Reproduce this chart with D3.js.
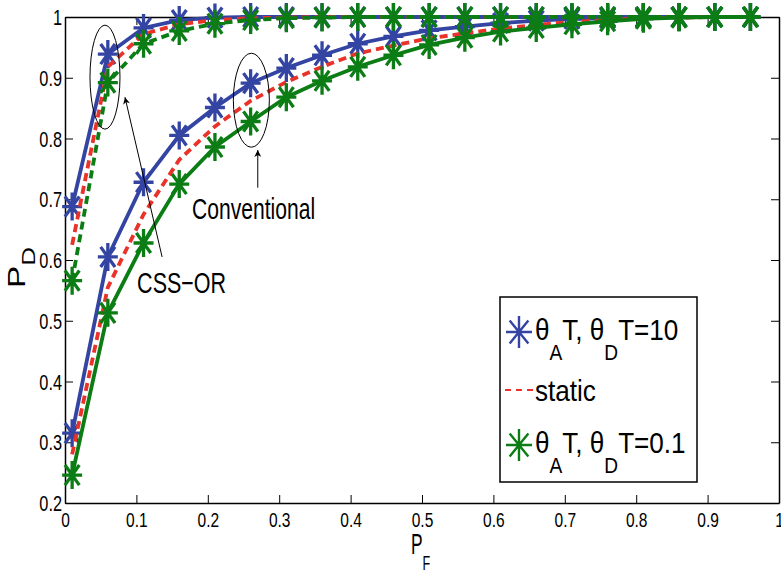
<!DOCTYPE html>
<html>
<head>
<meta charset="utf-8">
<script src="https://cdnjs.cloudflare.com/ajax/libs/d3/7.8.5/d3.min.js"></script>
<style>
  body { margin: 0; background: #fff; }
  svg { display: block; font-family: "Liberation Sans", Arial, sans-serif; }
</style>
</head>
<body>
<svg id="chart"></svg>
<script>
// P_F sample points
const pf = [0.01, 0.06, 0.11, 0.16, 0.21, 0.26, 0.31, 0.36, 0.41, 0.46,
            0.51, 0.56, 0.61, 0.66, 0.71, 0.76, 0.81, 0.86, 0.91, 0.96];

// Conventional
const convFast   = [0.315, 0.605, 0.728, 0.805, 0.851, 0.891, 0.916, 0.937, 0.956, 0.968,
                    0.978, 0.984, 0.990, 0.994, 0.997, 0.998, 0.999, 1.0, 1.0, 1.0];
const convStatic = [0.280, 0.555, 0.675, 0.765, 0.820, 0.862, 0.893, 0.918, 0.940, 0.953,
                    0.965, 0.973, 0.981, 0.987, 0.992, 0.995, 0.998, 0.999, 1.0, 1.0];
const convSlow   = [0.246, 0.513, 0.628, 0.725, 0.786, 0.828, 0.868, 0.895, 0.918, 0.937,
                    0.954, 0.966, 0.976, 0.982, 0.988, 0.993, 0.997, 0.999, 1.0, 1.0];

// CSS-OR
const cssFast   = [0.688, 0.939, 0.982, 0.995, 0.999, 1.0, 1.0, 1.0, 1.0, 1.0,
                   1.0, 1.0, 1.0, 1.0, 1.0, 1.0, 1.0, 1.0, 1.0, 1.0];
const cssStatic = [0.625, 0.918, 0.972, 0.988, 0.995, 0.998, 0.999, 1.0, 1.0, 1.0,
                   1.0, 1.0, 1.0, 1.0, 1.0, 1.0, 1.0, 1.0, 1.0, 1.0];
const cssSlow   = [0.566, 0.892, 0.956, 0.977, 0.989, 0.995, 0.998, 0.999, 1.0, 1.0,
                   1.0, 1.0, 1.0, 1.0, 1.0, 1.0, 1.0, 1.0, 1.0, 1.0];

const xTicks = [0, 0.1, 0.2, 0.3, 0.4, 0.5, 0.6, 0.7, 0.8, 0.9, 1];
const yTicks = [0.2, 0.3, 0.4, 0.5, 0.6, 0.7, 0.8, 0.9, 1];

const blue = "#3344a2", red = "#e8322a", green = "#0b7d14";

const W = 781, H = 576;
const svg = d3.select("#chart").attr("width", W).attr("height", H);

const x = d3.scaleLinear().domain([0, 1]).range([65, 779]);
const y = d3.scaleLinear().domain([0.2, 1]).range([503, 17]);

// asterisk marker (matlab '*'), slightly taller than wide
function star(w, h) {
  const dx = w * 0.72, dy = h * 0.72;
  return `M0,${-h}V${h}M${-w},0H${w}M${-dx},${-dy}L${dx},${dy}M${-dx},${dy}L${dx},${-dy}`;
}

// axes: box with inward ticks on every side
const fmt = d => d === 0 ? "0" : d === 1 ? "1" : d3.format(".1f")(d);

const gx = svg.append("g").attr("transform", `translate(0,${y(0.2)})`)
  .call(d3.axisBottom(x).tickValues(xTicks).tickSize(-8).tickSizeOuter(0).tickFormat(fmt));
gx.selectAll("text")
  .attr("y", 0).attr("dy", 0)
  .attr("transform", "translate(0,24) scale(0.74,1)")
  .style("font-size", "21px").attr("fill", "#000");

const gy = svg.append("g").attr("transform", `translate(${x(0)},0)`)
  .call(d3.axisLeft(y).tickValues(yTicks).tickSize(-8).tickSizeOuter(0).tickFormat(fmt));
gy.selectAll("text")
  .attr("x", 0).attr("dy", 0)
  .attr("transform", "translate(-3,7.5) scale(0.76,1)")
  .style("font-size", "21.5px").attr("fill", "#000");

svg.append("g").attr("transform", `translate(0,${y(1)})`)
  .call(d3.axisTop(x).tickValues(xTicks).tickSize(-8).tickSizeOuter(0).tickFormat(""));
svg.append("g").attr("transform", `translate(${x(1)},0)`)
  .call(d3.axisRight(y).tickValues(yTicks).tickSize(-8).tickSizeOuter(0).tickFormat(""));

svg.selectAll(".domain").attr("stroke", "#000").attr("stroke-width", 1.5);
svg.selectAll(".tick line").attr("stroke", "#000").attr("stroke-width", 1);

// series
const series = [
  { v: convFast,   color: blue,  dash: null,  mark: true },
  { v: cssFast,    color: blue,  dash: null,  mark: true },
  { v: convStatic, color: red,   dash: "8,5", mark: false },
  { v: cssStatic,  color: red,   dash: "8,5", mark: false },
  { v: convSlow,   color: green, dash: null,  mark: true },
  { v: cssSlow,    color: green, dash: "8,5", mark: true }
];

const line = d3.line().x((d, i) => x(pf[i])).y(d => y(d));

series.forEach(s => {
  svg.append("path")
    .datum(s.v)
    .attr("d", line)
    .attr("fill", "none")
    .attr("stroke", s.color)
    .attr("stroke-width", 3.8)
    .attr("stroke-dasharray", s.dash);
  if (s.mark) {
    svg.append("g").selectAll("path")
      .data(s.v)
      .join("path")
      .attr("transform", (d, i) => `translate(${x(pf[i])},${y(d)})`)
      .attr("d", star(10, 14))
      .attr("fill", "none")
      .attr("stroke", s.color)
      .attr("stroke-width", 3.3);
  }
});

// annotations
svg.append("defs").append("marker")
  .attr("id", "arrow")
  .attr("viewBox", "0 0 10 10")
  .attr("refX", 10).attr("refY", 5)
  .attr("markerWidth", 11).attr("markerHeight", 7)
  .attr("markerUnits", "userSpaceOnUse")
  .attr("orient", "auto")
  .append("path").attr("d", "M0,0L10,5L0,10L3,5Z").attr("fill", "#000");

const ellipses = [
  { cx: 0.056, cy: 0.901, rx: 15, ry: 52 },
  { cx: 0.261, cy: 0.863, rx: 18, ry: 47 }
];
svg.selectAll(".ell").data(ellipses).join("ellipse")
  .attr("cx", d => x(d.cx)).attr("cy", d => y(d.cy))
  .attr("rx", d => d.rx).attr("ry", d => d.ry)
  .attr("fill", "none").attr("stroke", "#000").attr("stroke-width", 1);

const arrows = [
  { x1: 0.136, y1: 0.605, x2: 0.084, y2: 0.868 },
  { x1: 0.270, y1: 0.719, x2: 0.270, y2: 0.781 }
];
svg.selectAll(".arr").data(arrows).join("line")
  .attr("x1", d => x(d.x1)).attr("y1", d => y(d.y1))
  .attr("x2", d => x(d.x2)).attr("y2", d => y(d.y2))
  .attr("stroke", "#000").attr("stroke-width", 1)
  .attr("marker-end", "url(#arrow)");

const notes = [
  { t: "Conventional", x: 0.178, y: 0.667, len: 123 },
  { t: "CSS\u2212OR",  x: 0.101, y: 0.546, len: 89 }
];
svg.selectAll(".note").data(notes).join("text")
  .attr("x", d => x(d.x)).attr("y", d => y(d.y))
  .attr("textLength", d => d.len).attr("lengthAdjust", "spacingAndGlyphs")
  .style("font-size", "29px").text(d => d.t);

// axis labels
const xl = svg.append("text")
  .attr("transform", "translate(411,554) scale(0.6,1)")
  .style("font-size", "29px");
xl.append("tspan").text("P");
xl.append("tspan").attr("dy", 16).style("font-size", "21px").text("F");

const yl = svg.append("text")
  .attr("transform", "translate(25,288) rotate(-90) scale(1.45,1)")
  .style("font-size", "23px");
yl.append("tspan").text("P");
yl.append("tspan").attr("dy", 10).style("font-size", "18px").text("D");

// legend
const lg = svg.append("g");
lg.append("rect")
  .attr("x", 500).attr("y", 297).attr("width", 197).attr("height", 185)
  .attr("fill", "#fff").attr("stroke", "#000").attr("stroke-width", 1.5);

const legendItems = [
  { color: blue,  mark: true,  val: "10",  yy: 340 },
  { color: red,   mark: false, val: null,  yy: 401 },
  { color: green, mark: true,  val: "0.1", yy: 453 }
];
legendItems.forEach(it => {
  if (it.mark) {
    lg.append("path")
      .attr("transform", `translate(519,${it.yy - 8})`)
      .attr("d", star(13, 16))
      .attr("fill", "none").attr("stroke", it.color).attr("stroke-width", 2.4);
  } else {
    lg.append("line")
      .attr("x1", 505).attr("x2", 533).attr("y1", it.yy - 11).attr("y2", it.yy - 11)
      .attr("stroke", it.color).attr("stroke-width", 2).attr("stroke-dasharray", "6,5");
  }
  const t = lg.append("text")
    .attr("transform", `translate(535,${it.yy}) scale(0.87,1)`)
    .style("font-size", "30px");
  if (it.val === null) {
    t.text("static");
  } else {
    t.append("tspan").text("\u03b8");
    t.append("tspan").attr("dy", 20).style("font-size", "22px").text("A");
    t.append("tspan").attr("dy", -20).text("T, \u03b8");
    t.append("tspan").attr("dy", 20).style("font-size", "22px").text("D");
    t.append("tspan").attr("dy", -20).text("T=" + it.val);
  }
});
</script>
</body>
</html>
